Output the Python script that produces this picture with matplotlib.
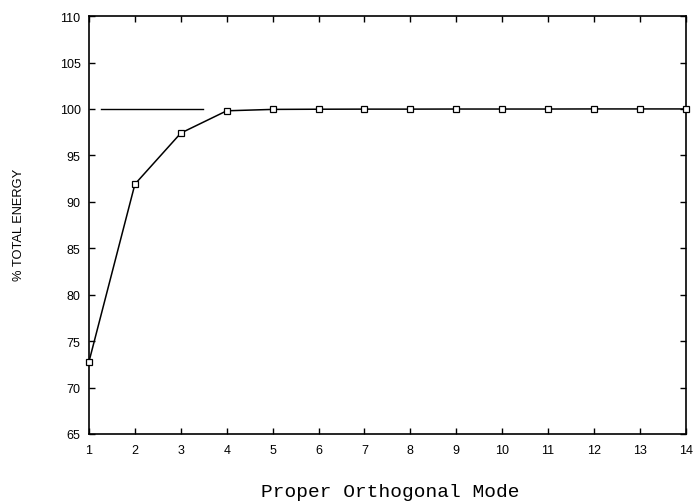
import matplotlib
matplotlib.use("Agg")
import matplotlib.pyplot as plt

# Cumulative energy captured by the leading proper orthogonal modes
modes = [1, 2, 3, 4, 5, 6, 7, 8, 9, 10, 11, 12, 13, 14]
energy = [72.8, 91.9, 97.4, 99.8, 99.95, 99.97, 99.98, 99.98, 99.99, 99.99, 99.99, 100.0, 100.0, 100.0]

# 100 % reference level
ref_level = 100.0
ref_span = [1.26, 3.48]

xticks = list(range(1, 15))
yticks = [65, 70, 75, 80, 85, 90, 95, 100, 105, 110]

fig = plt.figure(figsize=(6.97, 5.02), dpi=100)
ax = fig.add_axes([0.1277, 0.1335, 0.984 - 0.1277, 0.966 - 0.1335])

ax.plot(ref_span, [ref_level, ref_level], color="black", lw=1.0)
ax.plot(modes, energy, color="black", lw=1.1, marker="s", markersize=5,
        markerfacecolor="white", markeredgecolor="black", markeredgewidth=0.9,
        clip_on=False, zorder=3)

ax.set_xlim(1, 14)
ax.set_ylim(65, 110)
ax.set_xticks(xticks)
ax.set_yticks(yticks)
ax.tick_params(direction="in", length=4, width=1.0, top=True, right=True,
               labelsize=9)
ax.tick_params(axis="x", pad=7)
ax.tick_params(axis="y", pad=6)
for lab in ax.get_xticklabels() + ax.get_yticklabels():
    lab.set_family("Liberation Sans")
for s in ax.spines.values():
    s.set_linewidth(1.2)

fig.text(0.5603, 1 - 497 / 502, "Proper Orthogonal Mode", family="Liberation Mono",
         fontsize=14, ha="center", va="baseline")
fig.text(0.0273, 0.552, "% TOTAL ENERGY", rotation=90, family="Liberation Sans",
         fontsize=9.3, ha="center", va="center")

fig.savefig("out.png", dpi=100, facecolor="white")
